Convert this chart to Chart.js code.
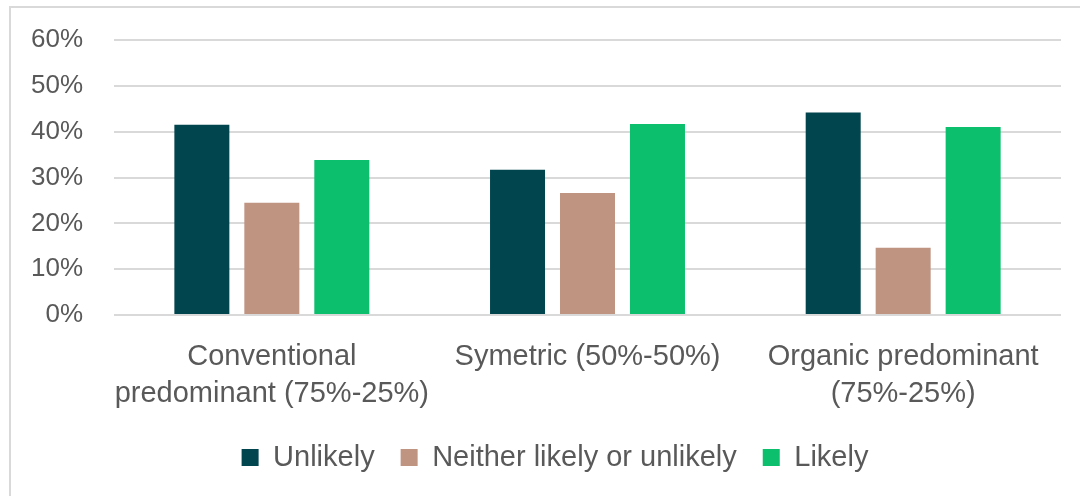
<!DOCTYPE html>
<html>
<head>
<meta charset="utf-8">
<script src="https://cdn.jsdelivr.net/npm/chart.js@4.4.1/dist/chart.umd.min.js"></script>
<style>
  html, body { margin: 0; padding: 0; background: #ffffff; }
  #wrap { position: relative; width: 1080px; height: 496px; overflow: hidden; }
  #frame { position: absolute; left: 9px; top: 6px; width: 1200px; height: 600px;
           border-left: 2px solid #d9d9d9; border-top: 2px solid #d9d9d9; box-sizing: border-box; }
  canvas { position: absolute; left: 0; top: 0; }
</style>
</head>
<body>
<div id="wrap">
  <div id="frame"></div>
  <canvas id="c" width="1080" height="496"></canvas>
</div>
<script>
const categories = [
  ["Conventional", "predominant (75%-25%)"],
  "Symetric (50%-50%)",
  ["Organic predominant", "(75%-25%)"]
];
const seriesNames = ["Unlikely", "Neither likely or unlikely", "Likely"];
const unlikely = [41.5, 31.7, 44.2];
const neither = [24.5, 26.6, 14.7];
const likely = [33.8, 41.7, 41.0];
const yTicks = [0, 10, 20, 30, 40, 50, 60];
const colors = ["#01454F", "#BF9480", "#0BBF6C"];

const FONT = "'Liberation Sans', Arial, sans-serif";
const TEXT = "#595959";

const legendShift = {
  id: 'legendShift',
  afterUpdate(chart) {
    const lg = chart.legend;
    if (!lg) return;
    lg.left += 24.5;
    lg.right += 24.5;
    lg.adjustHitBoxes();
  }
};

new Chart(document.getElementById('c'), {
  type: 'bar',
  data: {
    labels: categories,
    datasets: [
      { label: seriesNames[0], data: unlikely, backgroundColor: colors[0] },
      { label: seriesNames[1], data: neither, backgroundColor: colors[1] },
      { label: seriesNames[2], data: likely, backgroundColor: colors[2] }
    ].map(d => Object.assign(d, { categoryPercentage: 0.665, barPercentage: 0.786 }))
  },
  options: {
    responsive: false,
    animation: false,
    layout: { padding: { left: 0, right: 19, top: 40, bottom: 14 } },
    scales: {
      x: {
        grid: { display: false, drawTicks: false },
        border: { display: false },
        ticks: { color: TEXT, font: { family: FONT, size: 29, lineHeight: 1.28 }, padding: 23, maxRotation: 0, autoSkip: false },
        afterFit: (s) => { s.height = 102; }
      },
      y: {
        min: 0, max: 60,
        afterBuildTicks: (s) => { s.ticks = yTicks.map(v => ({ value: v })); },
        grid: { color: '#d9d9d9', lineWidth: 2, drawTicks: false },
        border: { display: false },
        ticks: { color: TEXT, font: { family: FONT, size: 26, lineHeight: 0.6 }, padding: 31, callback: (v) => v + '%' },
        afterFit: (s) => { s.width = 114; }
      }
    },
    plugins: {
      legend: {
        position: 'bottom',
        labels: { color: TEXT, font: { family: FONT, size: 29 }, boxWidth: 17, boxHeight: 17, padding: 26 }
      },
      tooltip: { enabled: false }
    }
  },
  plugins: [legendShift]
});
</script>
</body>
</html>
